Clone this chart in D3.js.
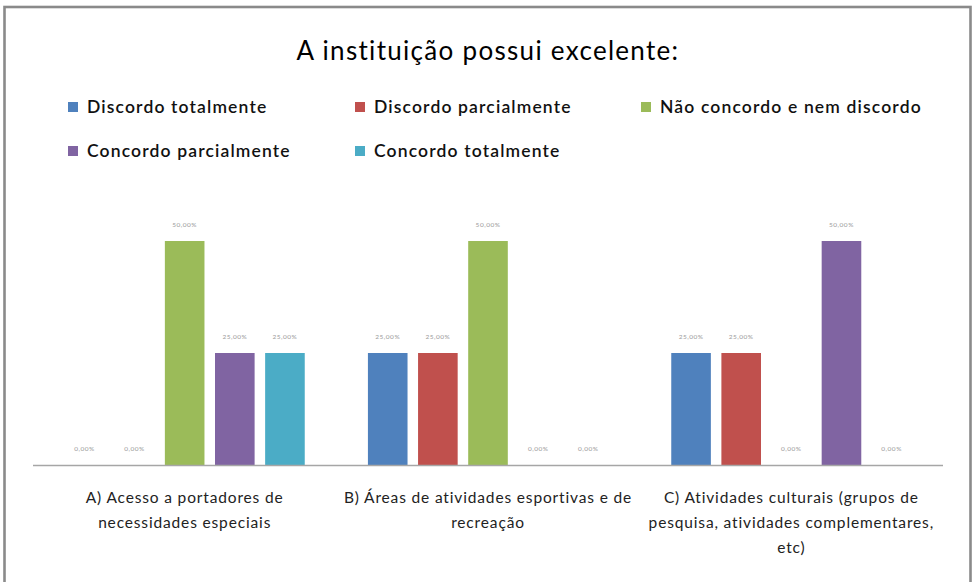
<!DOCTYPE html>
<html>
<head>
<meta charset="utf-8">
<script src="https://cdn.jsdelivr.net/npm/d3@7"></script>
<style>
html,body{margin:0;padding:0;background:#fff;}
svg{display:block;}
</style>
</head>
<body>
<svg id="chart" width="974" height="582"></svg>
<script>
const title = "A instituição possui excelente:";
const categories = [
  ["A) Acesso a portadores de", "necessidades especiais"],
  ["B) Áreas de atividades esportivas e de", "recreação"],
  ["C) Atividades culturais (grupos de", "pesquisa, atividades complementares,", "etc)"]
];
const seriesNames = ["Discordo totalmente", "Discordo parcialmente", "Não concordo e nem discordo", "Concordo parcialmente", "Concordo totalmente"];
const seriesColors = ["#4F81BD", "#C0504D", "#9BBB59", "#8064A2", "#4BACC6"];
const discordoTotalmente = [0, 0.25, 0.25];
const discordoParcialmente = [0, 0.25, 0.25];
const naoConcordoNemDiscordo = [0.5, 0.5, 0];
const concordoParcialmente = [0.25, 0, 0.5];
const concordoTotalmente = [0.25, 0, 0];
const seriesValues = [discordoTotalmente, discordoParcialmente, naoConcordoNemDiscordo, concordoParcialmente, concordoTotalmente];
const yMax = 0.6;

const svg = d3.select("#chart");
const FONT = "Lato, 'Open Sans', sans-serif";

// outer border
svg.append("rect").attr("x", 4.5).attr("y", 7).attr("width", 966).attr("height", 600)
  .attr("fill", "#fff").attr("stroke", "#8a8a8a").attr("stroke-width", 2.6);

// title
svg.append("text").attr("x", 488).attr("y", 60).attr("text-anchor", "middle")
  .attr("font-family", FONT).attr("font-size", 26).attr("letter-spacing", 1.3)
  .attr("fill", "#000").text(title);

// legend
const legendPos = [[68, 107], [355, 107], [641, 107], [68, 151], [355, 151]];
seriesNames.forEach((name, i) => {
  const g = svg.append("g").attr("transform", `translate(${legendPos[i][0]},${legendPos[i][1]})`);
  g.append("rect").attr("x", 0).attr("y", -5).attr("width", 10).attr("height", 10).attr("fill", seriesColors[i]);
  g.append("text").attr("x", 19).attr("y", 0).attr("dy", "0.36em")
    .attr("font-family", FONT).attr("font-size", 17.5).attr("font-weight", 600)
    .attr("letter-spacing", 1.15).attr("fill", "#111").text(name);
});

// scales
const x0 = d3.scaleBand().domain(d3.range(categories.length)).range([33, 943]).padding(0);
const x1 = d3.scaleBand().domain(d3.range(seriesNames.length)).range([0, x0.bandwidth()])
  .paddingInner(0.21).paddingOuter(0.63);
const y = d3.scaleLinear().domain([0, yMax]).range([465, 465 - 224 / 0.5 * yMax]);

// bars
const groups = svg.append("g").selectAll("g").data(categories).join("g")
  .attr("transform", (d, i) => `translate(${x0(i)},0)`);
groups.each(function(d, ci) {
  const g = d3.select(this);
  seriesValues.forEach((vals, si) => {
    const v = vals[ci];
    if (v > 0) {
      g.append("rect").attr("x", x1(si)).attr("y", y(v))
        .attr("width", x1.bandwidth()).attr("height", y(0) - y(v)).attr("fill", seriesColors[si]);
    }
    g.append("text").attr("x", x1(si) + x1.bandwidth() / 2).attr("y", y(v) - 14)
      .attr("text-anchor", "middle").attr("font-family", FONT).attr("font-size", 6.5)
      .attr("letter-spacing", 0.5).attr("fill", "#9a9a9a")
      .text(d3.format(".2f")(v * 100).replace(".", ",") + "%");
  });
});

// x axis line
svg.append("line").attr("x1", 33).attr("x2", 943).attr("y1", 465.5).attr("y2", 465.5)
  .attr("stroke", "#a6a6a6").attr("stroke-width", 1.6);

// category labels
categories.forEach((lines, i) => {
  const cx = x0(i) + x0.bandwidth() / 2;
  const t = svg.append("text").attr("text-anchor", "middle").attr("font-family", FONT)
    .attr("font-size", 15.5).attr("letter-spacing", 0.85).attr("fill", "#222");
  lines.forEach((ln, k) => {
    t.append("tspan").attr("x", cx).attr("y", 503 + k * 25).text(ln);
  });
});
</script>
</body>
</html>
